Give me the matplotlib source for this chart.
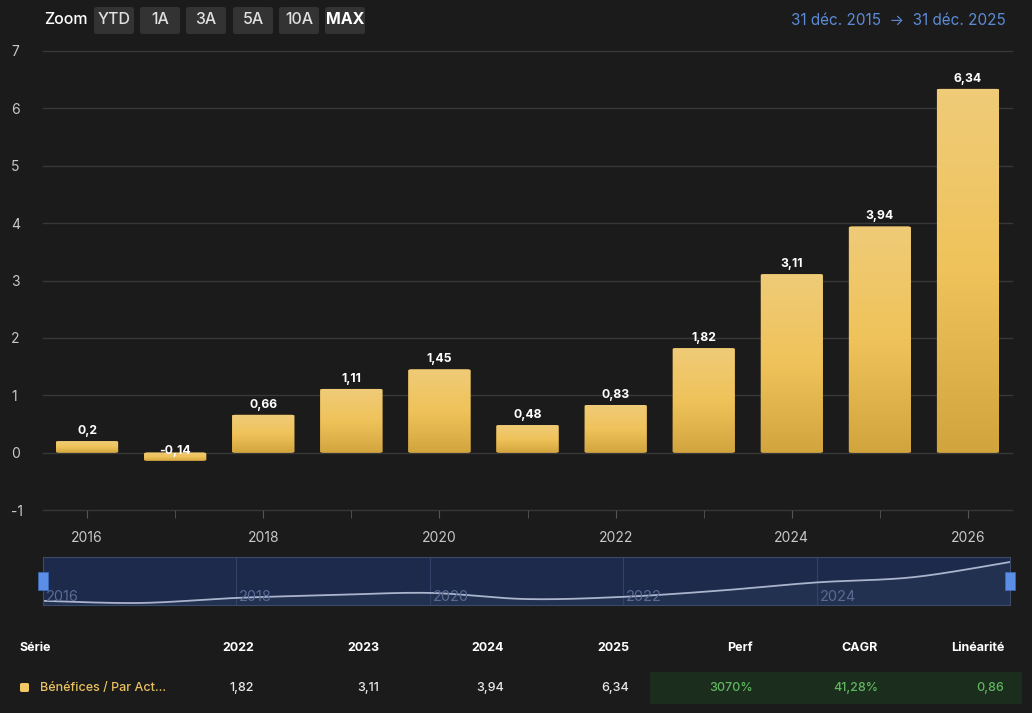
import numpy as np
import matplotlib
matplotlib.use("Agg")
import matplotlib.pyplot as plt
from matplotlib.patches import FancyBboxPatch, Rectangle

plt.rcParams['font.family'] = ['Inter', 'DejaVu Sans']

# data
years = [2016, 2017, 2018, 2019, 2020, 2021, 2022, 2023, 2024, 2025, 2026]
eps = [0.2, -0.14, 0.66, 1.11, 1.45, 0.48, 0.83, 1.82, 3.11, 3.94, 6.34]
zoom_buttons = ['YTD', '1A', '3A', '5A', '10A', 'MAX']
table_cols = ['2022', '2023', '2024', '2025', 'Perf', 'CAGR', 'Linéarité']
table_vals = ['1,82', '3,11', '3,94', '6,34', '3070%', '41,28%', '0,86']
series_name = 'Bénéfices / Par Act...'

BG = '#1b1b1b'
W, H = 1032, 713

fig = plt.figure(figsize=(W / 100, H / 100), dpi=100, facecolor=BG)


def fx(px):
    return px / W


def fy(py):
    return 1 - py / H


def fmt(v):
    s = ('%.2f' % v).rstrip('0').rstrip('.')
    return s.replace('.', ',')


# main chart
ax = fig.add_axes([fx(43), fy(510), fx(1012 - 43), fy(51) - fy(510)], facecolor=BG)
ax.set_xlim(2015.5, 2026.5)
ax.set_ylim(-1, 7)
for s in ax.spines.values():
    s.set_visible(False)
for yv in range(-1, 8):
    ax.axhline(yv, color='#383838', lw=1, zorder=0, clip_on=False)
ax.set_yticks(range(-1, 8))
ax.set_yticklabels([str(v) for v in range(-1, 8)], color='#c8c8c8', fontsize=10)
ax.tick_params(axis='y', length=0)
for t in ax.get_yticklabels():
    t.set_horizontalalignment('left')
ax.yaxis.set_tick_params(pad=23)
ax.set_xticks(years, minor=True)
ax.set_xticks(years[::2])
ax.set_xticklabels([str(y) for y in years[::2]], color='#c8c8c8', fontsize=10)
ax.tick_params(axis='x', which='both', length=6, color='#555555', pad=9)

grad = np.linspace(0, 1, 256).reshape(-1, 1)
cmap = matplotlib.colors.LinearSegmentedColormap.from_list('g', ['#d2a43e', '#efc35a', '#f0cb78'])
bw = 0.705
for x, v in zip(years, eps):
    lo, hi = min(0, v), max(0, v)
    patch = FancyBboxPatch((x - bw / 2, lo), bw, hi - lo,
                           boxstyle='round,pad=0,rounding_size=0.04',
                           mutation_aspect=0.4,
                           facecolor='#e8bb50', edgecolor='none', zorder=2)
    ax.add_patch(patch)
    im = ax.imshow(grad, extent=(x - bw / 2, x + bw / 2, lo, hi), origin='lower',
                   cmap=cmap, aspect='auto', zorder=3)
    im.set_clip_path(patch)
    if v >= 0:
        ax.annotate(fmt(v), (x, v), xytext=(0, 3), textcoords='offset points',
                    ha='center', va='bottom', color='white', fontsize=8.8,
                    fontweight='bold', zorder=5)
    else:
        ax.annotate(fmt(v), (x, 0), xytext=(0, 1), textcoords='offset points',
                    ha='center', va='center', color='white', fontsize=8.8,
                    fontweight='bold', zorder=5)
ax.set_aspect('auto')

# navigator
nav = fig.add_axes([fx(43), fy(605), fx(1010 - 43), fy(557) - fy(605)], facecolor='#1d2a4b')
nav.set_xlim(2016, 2026)
nav.set_ylim(-0.46, 7.13)
for s in nav.spines.values():
    s.set_color('#3d4a6a')
nav.set_xticks([])
nav.set_yticks([])
for yr in [2018, 2020, 2022, 2024]:
    nav.axvline(yr, color='#34426a', lw=0.8)

# smooth navigator line (catmull-rom through the data points)
px = np.array(years, float)
py = np.array(eps, float)
pts_x, pts_y = [], []
xx = np.concatenate([[px[0]], px, [px[-1]]])
yy = np.concatenate([[py[0]], py, [py[-1]]])
tt = np.linspace(0, 1, 20)
for i in range(1, len(xx) - 2):
    for arr, out in ((xx, pts_x), (yy, pts_y)):
        p0, p1, p2, p3 = arr[i - 1], arr[i], arr[i + 1], arr[i + 2]
        out.extend(0.5 * ((2 * p1) + (-p0 + p2) * tt + (2 * p0 - 5 * p1 + 4 * p2 - p3) * tt ** 2
                          + (-p0 + 3 * p1 - 3 * p2 + p3) * tt ** 3))
nav.fill_between(pts_x, pts_y, -0.46, color='#2a3858', alpha=0.5, lw=0)
nav.plot(pts_x, pts_y, color='#aab4cc', lw=1.3)
for yr in [2016, 2018, 2020, 2022, 2024]:
    nav.text(yr + 0.03, 0.02, str(yr), transform=nav.get_xaxis_transform(),
             color='#5a6a94', fontsize=10.5, ha='left', va='bottom', zorder=5)

# navigator handles
for hx in [43, 1010]:
    fig.patches.append(Rectangle((fx(hx - 5), fy(590)), fx(10), fy(572) - fy(590),
                                 transform=fig.transFigure, facecolor='#5b8ee6',
                                 edgecolor='#3c6cc0', lw=0.5))

# zoom buttons
fig.text(fx(44), fy(20), 'Zoom', color='white', fontsize=11.5, va='center', ha='left',
         fontweight='medium')
btn_x = [94, 140, 186, 233, 279, 325]
for bx, lab in zip(btn_x, zoom_buttons):
    fig.patches.append(FancyBboxPatch((fx(bx), fy(34)), fx(40), fy(7) - fy(34),
                                      boxstyle='round,pad=0,rounding_size=0.003',
                                      transform=fig.transFigure,
                                      facecolor='#333333', edgecolor='none'))
    fig.text(fx(bx + 20), fy(20), lab, color='white' if lab == 'MAX' else '#e0e0e0',
             fontsize=11.5, ha='center', va='center',
             fontweight='bold' if lab == 'MAX' else 'medium')

fig.text(fx(1006), fy(20), '31 déc. 2015  →  31 déc. 2025', color='#5b8bd6',
         fontsize=11, ha='right', va='center')

# table
col_x = [254, 379, 504, 629, 753, 878, 1004]
fig.patches.append(Rectangle((fx(650), fy(704)), fx(1022 - 650), fy(672) - fy(704),
                             transform=fig.transFigure, facecolor='#1b2d1c', edgecolor='none'))
fig.text(fx(20), fy(648), 'Série', color='white', fontsize=9, fontweight='bold',
         ha='left', va='center')
for cx, lab in zip(col_x, table_cols):
    fig.text(fx(cx), fy(648), lab, color='white', fontsize=9, fontweight='bold',
             ha='right', va='center')
fig.patches.append(FancyBboxPatch((fx(20), fy(692)), fx(9), fy(683) - fy(692),
                                  boxstyle='round,pad=0,rounding_size=0.002',
                                  transform=fig.transFigure, facecolor='#f2c864',
                                  edgecolor='none'))
fig.text(fx(40), fy(688), series_name, color='#e8c060', fontsize=9, ha='left', va='center',
         fontweight='medium')
for i, (cx, val) in enumerate(zip(col_x, table_vals)):
    fig.text(fx(cx), fy(688), val, color='#5fb85f' if i >= 4 else '#e8e8e8',
             fontsize=9, ha='right', va='center', fontweight='medium')

fig.savefig('out.png', dpi=100, facecolor=BG)
